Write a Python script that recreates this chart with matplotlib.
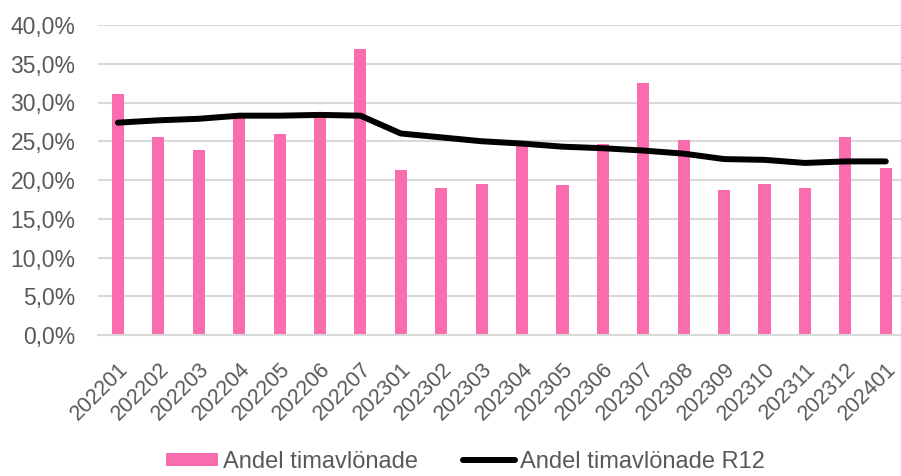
import matplotlib
matplotlib.use("Agg")
import matplotlib.pyplot as plt
from matplotlib.ticker import FuncFormatter, MultipleLocator

categories = ["202201", "202202", "202203", "202204", "202205", "202206", "202207",
              "202301", "202302", "202303", "202304", "202305", "202306", "202307",
              "202308", "202309", "202310", "202311", "202312", "202401"]
andel = [31.1, 25.5, 23.9, 28.2, 26.0, 28.2, 36.9,
         21.3, 19.0, 19.5, 24.6, 19.35, 24.7, 32.5,
         25.1, 18.7, 19.5, 19.0, 25.5, 21.5]
andel_r12 = [27.4, 27.7, 27.9, 28.3, 28.3, 28.4, 28.3,
             26.0, 25.5, 25.0, 24.7, 24.3, 24.1, 23.8,
             23.4, 22.7, 22.6, 22.2, 22.4, 22.4]
series_names = ["Andel timavlönade", "Andel timavlönade R12"]

plt.rcParams['font.family'] = ['Liberation Sans', 'DejaVu Sans']
text_color = "#595959"
grid_color = "#D9D9D9"
pink = "#F96DAE"

fig = plt.figure(figsize=(9.01, 4.76), dpi=100)
ax = fig.add_axes([97.75/901, 1-335/476, (906-97.75)/901, (335-25)/476])

x = list(range(len(categories)))
bars = ax.bar(x, andel, width=0.3, color=pink, label=series_names[0], zorder=2)
line, = ax.plot(x, andel_r12, color="black", lw=4.3, label=series_names[1], zorder=3,
                solid_capstyle="round")

ax.set_xlim(-0.5, len(categories) - 0.5)
ax.set_ylim(0, 40)
ax.yaxis.set_major_locator(MultipleLocator(5))
ax.yaxis.set_major_formatter(FuncFormatter(lambda v, p: f"{v:.1f}%".replace(".", ",")))
ax.grid(axis="y", color=grid_color, lw=1.5, zorder=0)
ax.set_axisbelow(True)
for s in ["top", "right", "left"]:
    ax.spines[s].set_visible(False)
ax.spines["bottom"].set_color(grid_color)
ax.spines["bottom"].set_linewidth(1.5)
ax.tick_params(axis="both", length=0, colors=text_color)
ax.tick_params(axis="y", pad=16, labelsize=16.5)
ax.set_xticks(x)
ax.set_xticklabels(categories, rotation=45, ha="right", rotation_mode="anchor")
ax.tick_params(axis="x", pad=17, labelsize=15.5)

fig.legend([bars, line], series_names, loc="center", bbox_to_anchor=(465.5/901, 1-462/476),
           ncol=2, frameon=False, fontsize=17, labelcolor=text_color,
           handlelength=2.2, handletextpad=0.2, columnspacing=1.9,
           handleheight=0.5, borderpad=0.1)

fig.savefig("out.png", dpi=100)
